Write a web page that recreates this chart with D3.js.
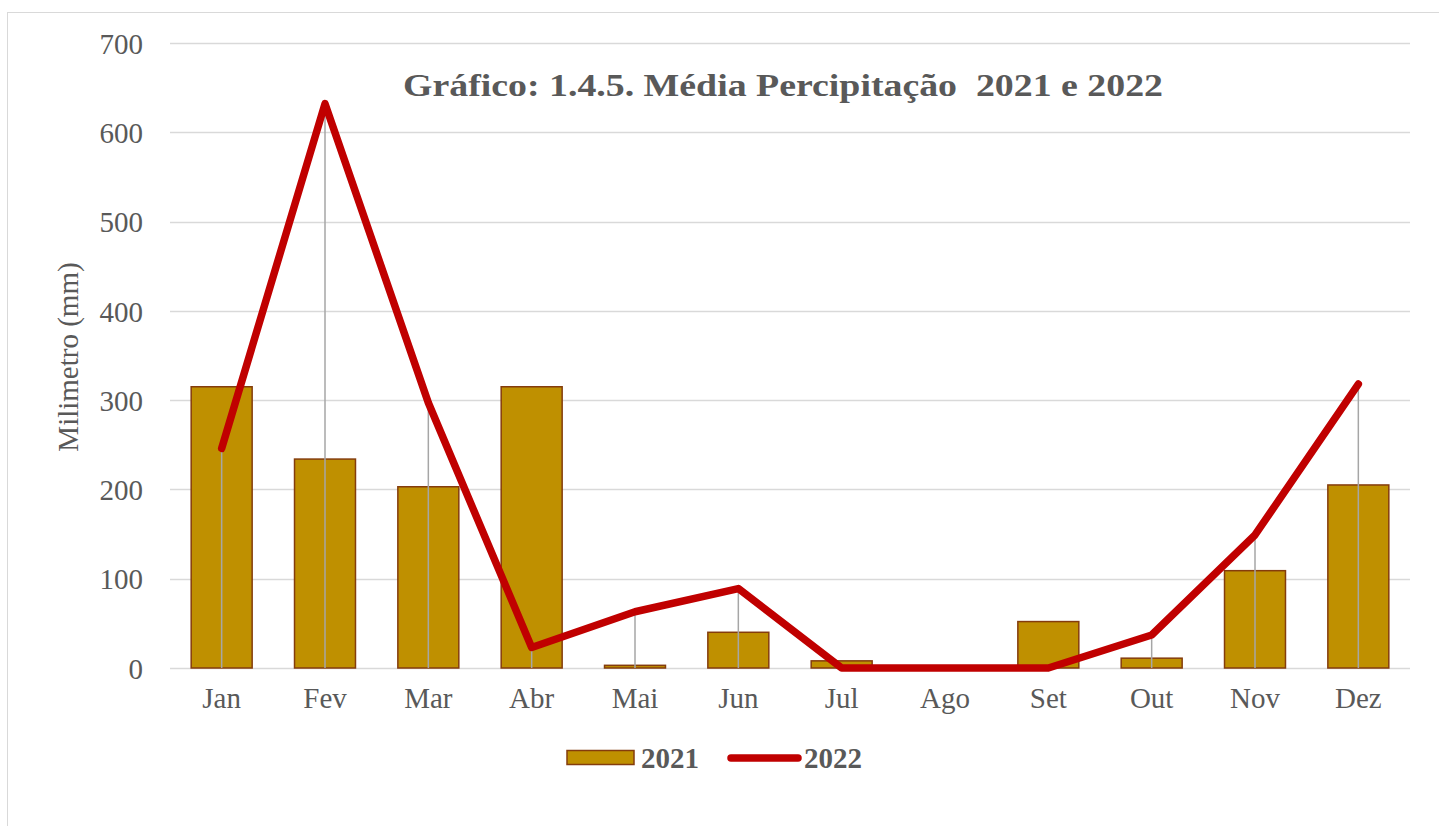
<!DOCTYPE html>
<html>
<head>
<meta charset="utf-8">
<script src="https://cdn.jsdelivr.net/npm/d3@7"></script>
<style>
  html, body { margin: 0; padding: 0; background: #fff; }
  svg { display: block; }
  text { font-family: "Liberation Serif", "Times New Roman", serif; fill: #595959; }
</style>
</head>
<body>
<svg id="chart" width="1439" height="826"></svg>
<script>
const months = ["Jan","Fev","Mar","Abr","Mai","Jun","Jul","Ago","Set","Out","Nov","Dez"];
const values2021 = [315, 234, 203, 315, 3, 40, 8, 0, 52, 11, 109, 205];
const values2022 = [246, 632, 297, 23, 63, 89, 0, 0, 0, 37, 149, 318];
const yTicks = [0, 100, 200, 300, 400, 500, 600, 700];
const titleText = "Gráfico: 1.4.5. Média Percipitação  2021 e 2022";
const yAxisTitle = "Milimetro (mm)";
const seriesNames = ["2021", "2022"];

const svg = d3.select("#chart");
const plot = { left: 170, right: 1410, top: 43, bottom: 668 };

// frame
svg.append("rect").attr("x", 7.5).attr("y", 12.5).attr("width", 1440).attr("height", 830)
  .attr("fill", "#fff").attr("stroke", "#d9d9d9").attr("stroke-width", 1);

const x = d3.scaleBand().domain(months).range([plot.left, plot.right])
  .paddingInner(0.41).paddingOuter(0.205);
const y = d3.scaleLinear().domain([0, 700]).range([plot.bottom, plot.top]);

// gridlines
svg.append("g").selectAll("line").data(yTicks).join("line")
  .attr("x1", plot.left).attr("x2", plot.right)
  .attr("y1", d => Math.round(y(d)) + 0.5).attr("y2", d => Math.round(y(d)) + 0.5)
  .attr("stroke", "#d9d9d9").attr("stroke-width", 1.5);

// y axis labels
const yAxis = d3.axisLeft(y).tickValues(yTicks).tickSize(0).tickPadding(0);
const gy = svg.append("g").attr("transform", `translate(143,0)`).call(yAxis);
gy.select(".domain").remove();
gy.selectAll("text").attr("font-size", 29).attr("fill", "#595959")
  .style("font-family", "'Liberation Serif', serif").attr("dy", "0.35em");

// x axis labels
const xAxis = d3.axisBottom(x).tickSize(0).tickPadding(0);
const gx = svg.append("g").attr("transform", `translate(0,${plot.bottom + 19})`).call(xAxis);
gx.select(".domain").remove();
gx.selectAll("text").attr("font-size", 29).attr("fill", "#595959")
  .style("font-family", "'Liberation Serif', serif").attr("dy", "0.71em");

// bars 2021
svg.append("g").selectAll("rect").data(months).join("rect")
  .attr("x", d => x(d))
  .attr("y", (d, i) => y(values2021[i]))
  .attr("width", x.bandwidth())
  .attr("height", (d, i) => y(0) - y(values2021[i]))
  .attr("fill", "#bf9000").attr("stroke", "#843c0c").attr("stroke-width", 1.5);

// drop lines
const cx = d => x(d) + x.bandwidth() / 2;
svg.append("g").selectAll("line").data(months).join("line")
  .attr("x1", d => cx(d)).attr("x2", d => cx(d))
  .attr("y1", (d, i) => y(values2022[i])).attr("y2", y(0))
  .attr("stroke", "#a6a6a6").attr("stroke-width", 1.5);

// line 2022
const line = d3.line().x(d => cx(d)).y((d, i) => y(values2022[i]));
svg.append("path").datum(months).attr("d", line)
  .attr("fill", "none").attr("stroke", "#c00000").attr("stroke-width", 7.5)
  .attr("stroke-linejoin", "round").attr("stroke-linecap", "round");

// title
svg.append("text").attr("x", 783).attr("y", 96).attr("text-anchor", "middle")
  .attr("font-size", 32).attr("font-weight", "bold").attr("fill", "#595959")
  .attr("textLength", 760).attr("lengthAdjust", "spacingAndGlyphs")
  .style("white-space", "pre").text(titleText);

// y axis title
svg.append("text").attr("transform", "translate(78,357) rotate(-90)")
  .attr("text-anchor", "middle").attr("font-size", 29).attr("fill", "#595959")
  .text(yAxisTitle);

// legend
const lg = svg.append("g");
lg.append("rect").attr("x", 567).attr("y", 750.5).attr("width", 67).attr("height", 14)
  .attr("fill", "#bf9000").attr("stroke", "#843c0c").attr("stroke-width", 1.5);
lg.append("text").attr("x", 641).attr("y", 768).attr("font-size", 29).attr("font-weight", "bold")
  .attr("fill", "#595959").text(seriesNames[0]);
lg.append("line").attr("x1", 731).attr("x2", 798).attr("y1", 758).attr("y2", 758)
  .attr("stroke", "#c00000").attr("stroke-width", 7.5).attr("stroke-linecap", "round");
lg.append("text").attr("x", 804).attr("y", 768).attr("font-size", 29).attr("font-weight", "bold")
  .attr("fill", "#595959").text(seriesNames[1]);
</script>
</body>
</html>
